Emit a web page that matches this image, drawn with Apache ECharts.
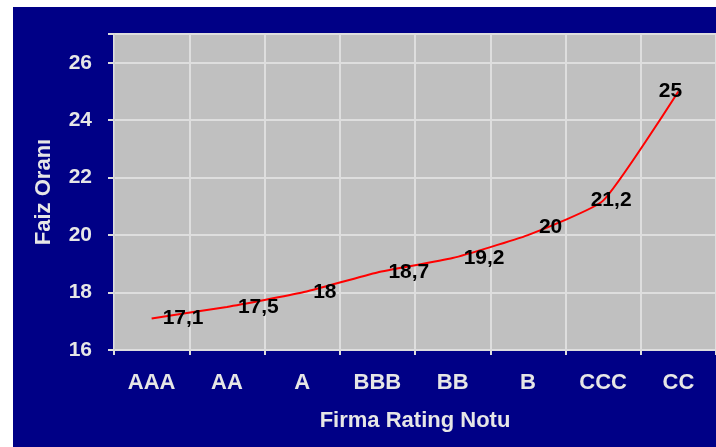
<!DOCTYPE html>
<html>
<head>
<meta charset="utf-8">
<style>
  html, body { margin: 0; padding: 0; background: #ffffff; }
  #chart { width: 716px; height: 447px; }
</style>
<script src="https://cdn.jsdelivr.net/npm/echarts@6/dist/echarts.min.js"></script>
</head>
<body>
<div id="chart"></div>
<script>
  // kategoriler ve faiz oranlari
  var ratings = ['AAA', 'AA', 'A', 'BBB', 'BB', 'B', 'CCC', 'CC']
  var rates = [17.1, 17.5, 18, 18.7, 19.2, 20, 21.2, 25]
  var yTicks = [16, 18, 20, 22, 24, 26]

  // Excel bazi etiketleri kaydirmis
  var labelTweaks = {
    5: { offset: [0, -8] },
    6: { position: 'inside', offset: [8, 0] },
    7: { position: 'inside', offset: [-8, 0] }
  }

  var fontName = '"Liberation Sans", Arial, sans-serif'
  var axisText = '#e6e6e6'

  var seriesData = rates.map(function (v, i) {
    if (labelTweaks[i]) {
      return { value: v, label: labelTweaks[i] }
    }
    return v
  })

  var myChart = echarts.init(document.getElementById('chart'))
  myChart.setOption({
    animation: false,
    backgroundColor: '#ffffff',
    graphic: [
      {
        type: 'rect',
        z: -10,
        shape: { x: 13, y: 7, width: 710, height: 450 },
        style: { fill: '#000086' }
      }
    ],
    grid: {
      left: 114,
      top: 34,
      width: 602,
      height: 316,
      show: true,
      backgroundColor: '#c0c0c0',
      borderWidth: 0
    },
    xAxis: {
      type: 'category',
      data: ratings,
      boundaryGap: true,
      name: 'Firma Rating Notu',
      nameLocation: 'middle',
      nameGap: 60,
      nameMoveOverlap: false,
      nameTextStyle: { color: axisText, fontFamily: fontName, fontWeight: 'bold', fontSize: 22 },
      axisLine: { show: true, lineStyle: { color: '#dcdcdc', width: 1 } },
      axisTick: { show: true, length: 5, lineStyle: { color: '#dcdcdc', width: 2 } },
      axisLabel: { color: axisText, fontFamily: fontName, fontWeight: 'bold', fontSize: 22, margin: 22 },
      splitLine: { show: true, lineStyle: { color: '#dedede', width: 2 } }
    },
    yAxis: {
      type: 'value',
      min: yTicks[0],
      max: 27,
      interval: 2,
      name: 'Faiz Oranı',
      nameLocation: 'middle',
      nameGap: 59,
      nameMoveOverlap: false,
      nameTextStyle: { color: axisText, fontFamily: fontName, fontWeight: 'bold', fontSize: 22 },
      axisLine: { show: true, lineStyle: { color: '#d0d0d0', width: 1 } },
      axisTick: { show: true, length: 6, lineStyle: { color: '#dcdcdc', width: 2 } },
      axisLabel: {
        color: axisText, fontFamily: fontName, fontWeight: 'bold', fontSize: 21, margin: 22,
        formatter: function (v) { return yTicks.indexOf(v) >= 0 ? String(v) : '' }
      },
      splitLine: { show: true, lineStyle: { color: '#dedede', width: 2 } }
    },
    series: [
      {
        type: 'line',
        data: seriesData,
        smooth: 0.15,
        symbol: 'circle',
        symbolSize: 2,
        itemStyle: { color: 'rgba(255,0,0,0)' },
        lineStyle: { color: '#ff0000', width: 2 },
        label: {
          show: true,
          position: 'right',
          distance: 10,
          color: '#000000',
          fontFamily: fontName,
          fontWeight: 'bold',
          fontSize: 21,
          formatter: function (p) { return String(p.value).replace('.', ',') }
        }
      }
    ]
  })
</script>
</body>
</html>
